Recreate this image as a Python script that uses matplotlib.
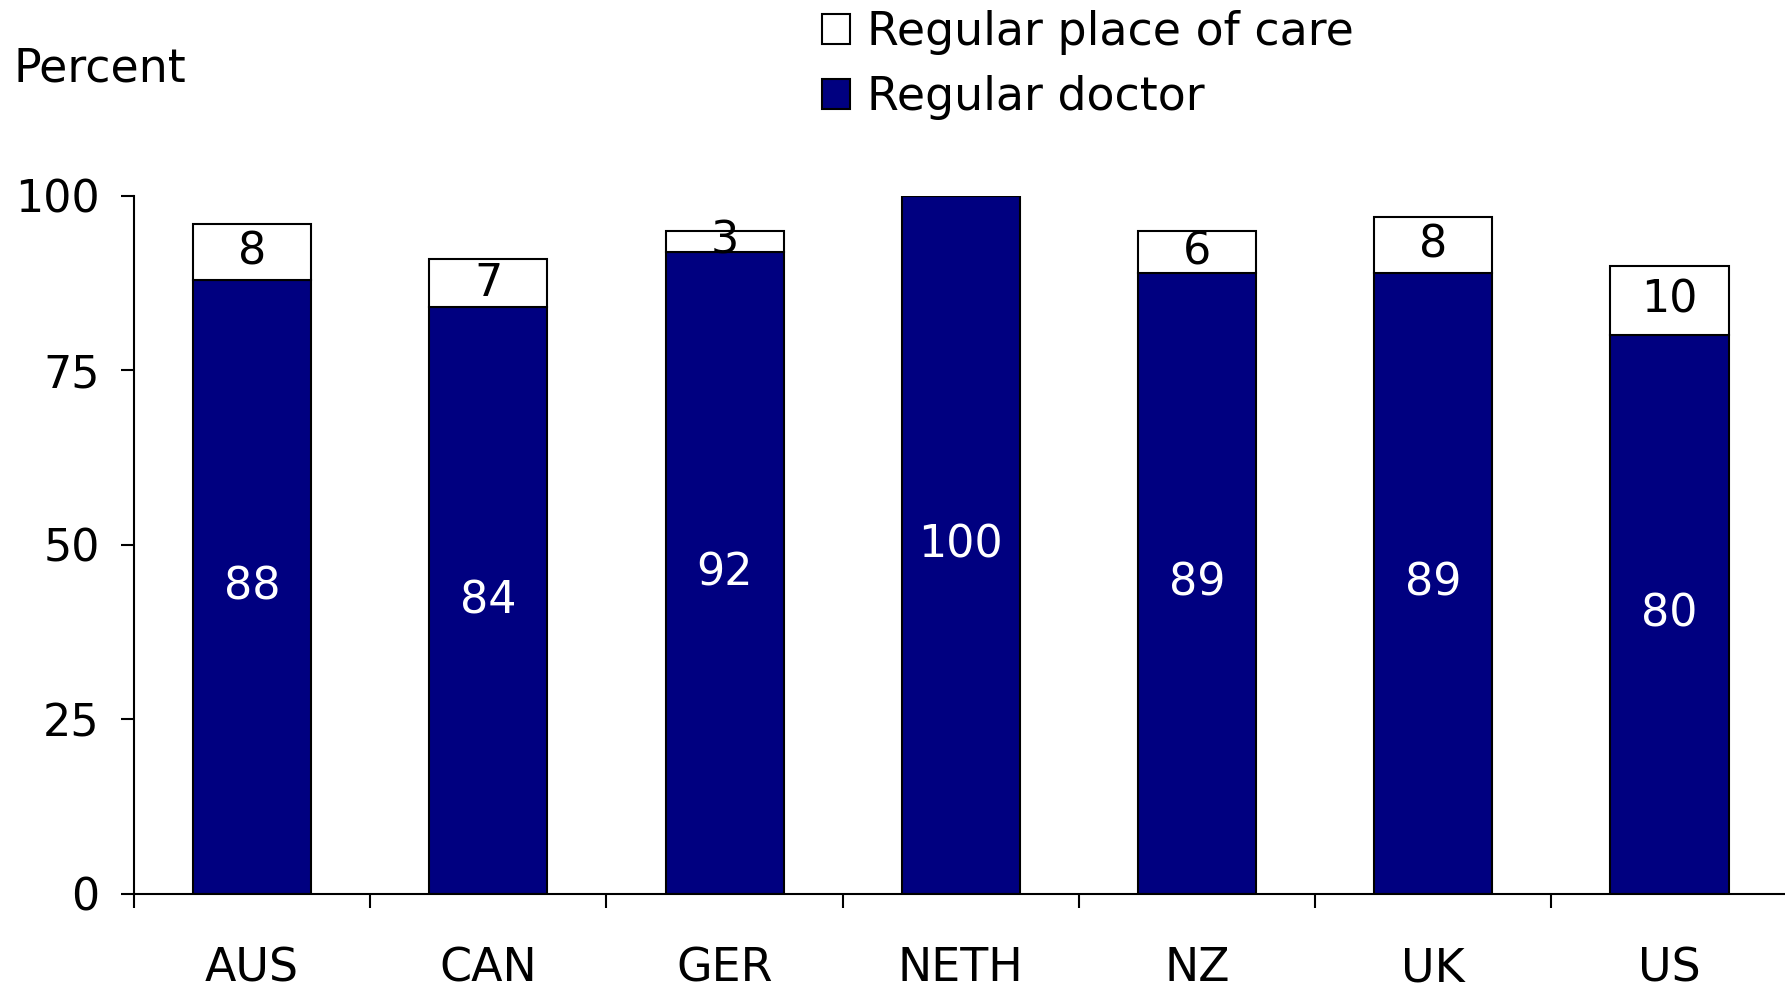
import matplotlib
matplotlib.use("Agg")
import matplotlib.pyplot as plt
from matplotlib.patches import Patch

countries = ["AUS", "CAN", "GER", "NETH", "NZ", "UK", "US"]
regular_doctor = [88, 84, 92, 100, 89, 89, 80]
regular_place = [8, 7, 3, 0, 6, 8, 10]
y_ticks = [0, 25, 50, 75, 100]

NAVY = "#000080"
FS_NUM = 32
FS_TXT = 33

plt.rcParams["font.family"] = ["DejaVu Sans"]

W, H = 1785, 993
fig = plt.figure(figsize=(W / 100, H / 100), dpi=100)
ax = fig.add_axes([134 / W, 99.4 / H, 1653.6 / W, 697.8 / H])

x = list(range(len(countries)))
ax.bar(x, regular_doctor, width=0.5, color=NAVY, edgecolor="black",
       linewidth=1.5, zorder=2)
ax.bar(x, regular_place, width=0.5, bottom=regular_doctor, color="white",
       edgecolor="black", linewidth=1.5, zorder=2)

for xi, d, p in zip(x, regular_doctor, regular_place):
    ax.text(xi, d / 2, str(d), ha="center", va="center", color="white",
            fontsize=FS_NUM, zorder=3)
    if p:
        ax.text(xi, d + p / 2, str(p), ha="center", va="center",
                color="black", fontsize=FS_NUM, zorder=3)

ax.set_xlim(-0.5, len(countries) - 0.5)
ax.set_ylim(0, 100)
ax.set_yticks(y_ticks)
ax.set_yticklabels([str(t) for t in y_ticks])
ax.set_xticks([i + 0.5 for i in range(-1, len(countries) - 1)])
ax.set_xticklabels([])
ax.set_xticks(x, minor=True)
ax.set_xticklabels(countries, minor=True)

ax.tick_params(axis="y", which="major", direction="out", length=9.7,
               width=1.5, pad=15, labelsize=FS_NUM)
ax.tick_params(axis="x", which="major", direction="out", length=10,
               width=1.5)
ax.tick_params(axis="x", which="minor", length=0, pad=38, labelsize=FS_TXT)

for side in ("top", "right"):
    ax.spines[side].set_visible(False)
for side in ("left", "bottom"):
    ax.spines[side].set_linewidth(1.5)

fig.text(14 / W, 1 - 81 / H, "Percent", fontsize=FS_TXT, ha="left",
         va="baseline")

handles = [
    Patch(facecolor="white", edgecolor="black", linewidth=1.5,
          label="Regular place of care"),
    Patch(facecolor=NAVY, edgecolor="black", linewidth=1.5,
          label="Regular doctor"),
]
fig.legend(handles=handles, loc="upper left",
           bbox_to_anchor=(822 / W, 1 - 10 / H), frameon=False,
           fontsize=FS_TXT, borderaxespad=0, borderpad=0,
           handlelength=0.62, handleheight=0.62, handletextpad=0.36,
           labelspacing=0.44)

fig.savefig("out.png", dpi=100)
